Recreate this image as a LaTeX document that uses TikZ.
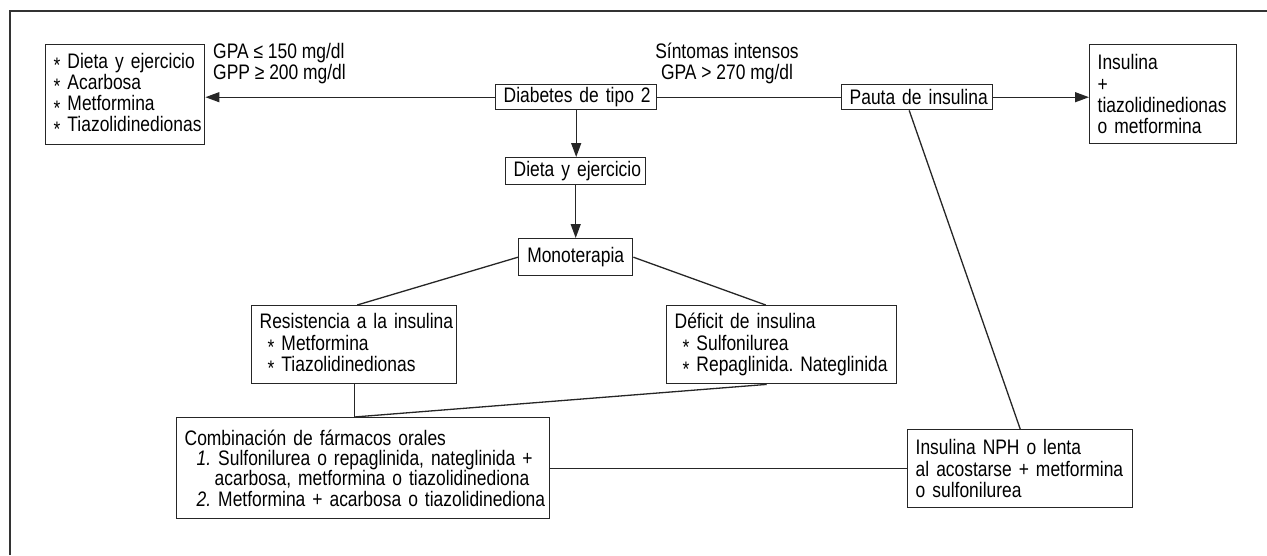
\documentclass[tikz,border=0pt]{standalone}
\usepackage{fontspec}
\setmainfont{Liberation Sans}[FakeStretch=0.83]
\usetikzlibrary{arrows.meta,calc}
\newcommand{\stari}{\raisebox{-0.22em}{*}\ }
\frenchspacing
\begin{document}
\begin{tikzpicture}[x=1pt,y=-1pt,
  every node/.style={font=\fontsize{21}{21.3}\selectfont, text=black},
  box/.style={draw=black!85, line width=1.4pt, inner xsep=8pt, inner ysep=0pt, align=left, anchor=north west},
  conn/.style={line width=1.3pt, draw=black!85},
  arr/.style={conn, -{Triangle[length=14pt,width=10pt]}},
  lbl/.style={inner sep=0pt, align=left}]
\useasboundingbox (0,0) rectangle (1267,555);
\coordinate (f1) at (10,555); \coordinate (f2) at (10,11); \coordinate (f3) at (1267,11);
\draw[line width=1.4pt, black!80] (f1) -- (f2) -- (f3);

\node[box, text width=143pt, minimum height=100pt] (L) at (45,44) {\mbox{\stari Dieta y ejercicio}\\\mbox{\stari Acarbosa}\\\mbox{\stari Metformina}\\\mbox{\stari Tiazolidinedionas}};
\node[box, text width=145pt, minimum height=25pt, align=center] (D) at (495,84) {\mbox{Diabetes de tipo 2}};
\node[box, text width=135pt, minimum height=25pt, align=center] (P) at (841,84) {\mbox{Pauta de insulina}};
\node[box, text width=131pt, minimum height=99pt] (R) at (1089,44) {Insulina\\+\\\mbox{tiazolidinedionas}\\\mbox{o metformina}};
\node[box, text width=124pt, minimum height=27pt, align=center] (DE) at (505,157) {\mbox{Dieta y ejercicio}};
\node[box, text width=98pt, minimum height=37pt, align=center] (M) at (518,238) {Monoterapia};
\node[box, text width=189pt, minimum height=78pt] (RES) at (251,305) {\mbox{Resistencia a la insulina}\\\mbox{\hspace*{8pt}\stari Metformina}\\\mbox{\hspace*{8pt}\stari Tiazolidinedionas}};
\node[box, text width=214pt, minimum height=78pt] (DEF) at (666,305) {\mbox{Déficit de insulina}\\\mbox{\hspace*{8pt}\stari Sulfonilurea}\\\mbox{\hspace*{8pt}\stari Repaglinida. Nateglinida}};
\node[box, text width=357pt, minimum height=101pt, font=\fontsize{21}{20.2}\selectfont] (COMB) at (176,417) {\mbox{Combinación de fármacos orales}\\\mbox{\hspace*{12pt}\textit{1.}\ Sulfonilurea o repaglinida, nateglinida +}\\\mbox{\hspace*{30pt}acarbosa, metformina o tiazolidinediona}\\\mbox{\hspace*{12pt}\textit{2.}\ Metformina + acarbosa o tiazolidinediona}};
\node[box, text width=209pt, minimum height=78pt] (NPH) at (907,429) {\mbox{Insulina NPH o lenta}\\\mbox{al acostarse + metformina}\\\mbox{o sulfonilurea}};

\node[lbl, anchor=west] (gpa) at (213,63.5) {GPA ≤ 150 mg/dl\\GPP ≥ 200 mg/dl};
\node[lbl, align=center] (sint) at (727,63.5) {Síntomas intensos\\GPA > 270 mg/dl};

\draw[arr] (D.west) -- (D.west -| L.east);
\draw[conn] (D.east) -- (P.west);
\draw[arr] (P.east) -- (P.east -| R.west);
\draw[arr] (D.south) -- (D.south |- DE.north);
\draw[arr] (DE.south) -- (DE.south |- M.north);
\draw[conn] (M.west) -- ([xshift=3pt]RES.north);
\draw[conn] (M.east) -- ([xshift=-16pt]DEF.north);
\draw[conn] (RES.south) -- (RES.south |- COMB.north);
\draw[conn] ([xshift=-15pt]DEF.south) -- (RES.south |- COMB.north);
\draw[conn] (COMB.east) -- (COMB.east -| NPH.west);
\draw[conn] ([xshift=-8pt]P.south) -- (NPH.north);
\end{tikzpicture}
\end{document}
